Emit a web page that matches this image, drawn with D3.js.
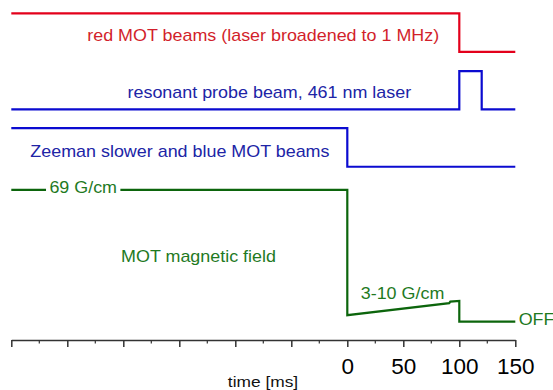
<!DOCTYPE html>
<html>
<head>
<meta charset="utf-8">
<script src="https://cdn.jsdelivr.net/npm/d3@7"></script>
<style>
  body { margin: 0; background: #fff; }
  text { font-family: "Liberation Sans", Arial, sans-serif; }
</style>
</head>
<body>
<svg id="chart" width="553" height="390"></svg>
<script>
// timing traces: time in ms, level in arbitrary signal units
const redTimes = [-300, 100, 100, 150];
const redLevels = [8, 8, 7, 7];

const probeTimes = [-300, 100, 100, 120, 120, 150];
const probeLevels = [5.51, 5.51, 6.5, 6.5, 5.51, 5.51];

const zeemanTimes = [-300, 0, 0, 150];
const zeemanLevels = [5.02, 5.02, 4.02, 4.02];

const fieldTimes = [-300, 0, 0, 91, 92, 100, 100, 150];
const fieldLevels = [3.42, 3.42, 0.17, 0.48, 0.52, 0.54, 0, 0];

const majorTicks = [-300, -250, -200, -150, -100, -50, 0, 50, 100, 150];
const minorTicks = [-275, -225, -175, -125, -75, -25, 25, 75, 125];
const labelledTicks = [0, 50, 100, 150];

// annotations: [text, time, level, anchor]
const redNotes = [["red MOT beams (laser broadened to 1 MHz)", 82, 7.29, "end"]];
const probeNotes = [["resonant probe beam, 461 nm laser", 57, 5.80, "end"]];
const zeemanNotes = [["Zeeman slower and blue MOT beams", -283, 4.28, "start"]];
const fieldNotes = [
  ["MOT magnetic field", -202, 1.56, "start"],
  ["3-10 G/cm", 12, 0.58, "start"],
  ["OFF", 153, -0.09, "start"]
];
const fieldGapNote = ["69 G/cm", -266, 3.33, "start"];

const svg = d3.select("#chart");
const width = 553, height = 390;
const stretch = 1.12; // the source lettering is slightly wide

const x = d3.scaleLinear()
  .domain([-300, 150])
  .range([11.3, 515.3]);

const y = d3.scaleLinear()
  .domain([0, 8])
  .range([321.7, 13.3]);

const line = d3.line()
  .x(d => x(d[0]))
  .y(d => y(d[1]));

const channels = [
  { t: redTimes, v: redLevels, stroke: "#e3001b", text: "#d21f2b", notes: redNotes },
  { t: probeTimes, v: probeLevels, stroke: "#0b0bd0", text: "#2024a6", notes: probeNotes },
  { t: zeemanTimes, v: zeemanLevels, stroke: "#0b0bd0", text: "#2024a6", notes: zeemanNotes },
  { t: fieldTimes, v: fieldLevels, stroke: "#0c650c", text: "#1f7a1f", notes: fieldNotes }
];

const addNote = (sel, d, fill) => sel.append("text")
  .attr("transform", `translate(${x(d[1])},${y(d[2])}) scale(${stretch},1)`)
  .attr("text-anchor", d[3])
  .attr("font-size", 16)
  .attr("fill", fill)
  .text(d[0]);

channels.forEach(c => {
  svg.append("path")
    .datum(d3.zip(c.t, c.v))
    .attr("fill", "none")
    .attr("stroke", c.stroke)
    .attr("stroke-width", 2.2)
    .attr("stroke-linejoin", "miter")
    .attr("d", line);

  c.notes.forEach(d => addNote(svg, d, c.text));
});

// "69 G/cm" sits in a gap of the green line
const gapText = addNote(svg, fieldGapNote, "#1f7a1f");
const bb = gapText.node().getBBox();
svg.insert("rect", () => gapText.node())
  .attr("transform", gapText.attr("transform"))
  .attr("x", bb.x - 3)
  .attr("y", bb.y)
  .attr("width", bb.width + 6)
  .attr("height", bb.height)
  .attr("fill", "#fff");

// time axis
const axisY = 340;
const axisG = svg.append("g")
  .attr("transform", `translate(0,${axisY})`)
  .call(d3.axisBottom(x)
    .tickValues(majorTicks)
    .tickSize(7)
    .tickSizeOuter(0)
    .tickFormat(d => labelledTicks.includes(d) ? d : ""));

axisG.select(".domain").attr("stroke", "#333").attr("stroke-width", 1.5);
axisG.selectAll(".tick line").attr("stroke", "#333").attr("stroke-width", 1.5);
axisG.selectAll(".tick text")
  .attr("font-family", "'Open Sans', sans-serif")
  .attr("font-size", 22.5)
  .attr("fill", "#000")
  .attr("y", 34.3)
  .attr("dy", 0);

svg.append("g")
  .attr("transform", `translate(0,${axisY})`)
  .selectAll("line")
  .data(minorTicks)
  .enter().append("line")
  .attr("x1", d => x(d))
  .attr("x2", d => x(d))
  .attr("y1", 0)
  .attr("y2", 3.5)
  .attr("stroke", "#333")
  .attr("stroke-width", 1.2);

svg.append("text")
  .attr("transform", `translate(263,386.5) scale(${stretch},1)`)
  .attr("text-anchor", "middle")
  .attr("font-size", 15.5)
  .attr("fill", "#111")
  .text("time [ms]");
</script>
</body>
</html>
